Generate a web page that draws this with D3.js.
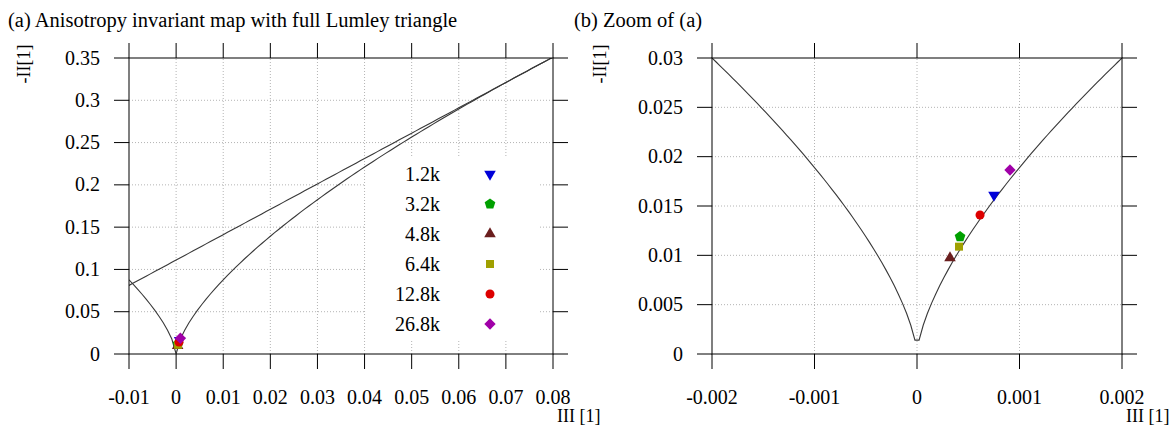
<!DOCTYPE html>
<html>
<head>
<meta charset="utf-8">
<script src="https://cdn.jsdelivr.net/npm/d3@7"></script>
<style>
  body { margin: 0; background: #fff; }
  svg text { font-family: "Liberation Serif", serif; fill: #000; }
  .grid line { stroke: #b4b4b4; stroke-dasharray: 1,2; }
</style>
</head>
<body>
<svg id="chart" width="1170" height="428"></svg>
<script>
// Reynolds numbers of the cases
const cases = ["1.2k", "3.2k", "4.8k", "6.4k", "12.8k", "26.8k"];
// third invariant III and second invariant -II for each case
const caseIII = [0.000751, 0.000420, 0.000322, 0.000410, 0.000615, 0.000907];
const caseII = [0.01611, 0.01189, 0.00973, 0.01088, 0.01409, 0.01865];
const caseColors = ["#0000d8", "#00a000", "#6a1e1e", "#a0a000", "#dd0000", "#a000a8"];

const ticksA_x = [-0.01, 0, 0.01, 0.02, 0.03, 0.04, 0.05, 0.06, 0.07, 0.08];
const ticksA_y = [0, 0.05, 0.1, 0.15, 0.2, 0.25, 0.3, 0.35];
const ticksB_x = [-0.002, -0.001, 0, 0.001, 0.002];
const ticksB_y = [0, 0.005, 0.01, 0.015, 0.02, 0.025, 0.03];

const svg = d3.select("#chart");
const fmt = v => String(+v.toFixed(4));
const fs = 20;

// custom marker shapes
const pentagon = {
    draw(ctx, size) {
        let r = Math.sqrt(size / 2.38);
        for (let i = 0; i < 5; i++) {
            let a = -Math.PI / 2 + i * 2 * Math.PI / 5;
            if (i === 0) ctx.moveTo(r * Math.cos(a), r * Math.sin(a));
            else ctx.lineTo(r * Math.cos(a), r * Math.sin(a));
        }
        ctx.closePath();
    }
};
const markers = [
    { type: d3.symbolTriangle, size: 58, rot: 180 },
    { type: pentagon, size: 75, rot: 0 },
    { type: d3.symbolTriangle, size: 58, rot: 0 },
    { type: d3.symbolSquare, size: 64, rot: 0 },
    { type: d3.symbolCircle, size: 64, rot: 0 },
    { type: d3.symbolSquare, size: 64, rot: 45 }
];

// Lumley triangle boundaries: axisymmetric curve and two-component line
const axisym = t => 3 * Math.pow(Math.abs(t) / 2, 2 / 3);
const twoComp = t => 1 / 9 + 3 * t;

function panel(opts) {
    const x = d3.scaleLinear().domain(opts.xDomain).range([opts.left, opts.right]);
    const y = d3.scaleLinear().domain(opts.yDomain).range([354, 58]);
    const g = svg.append("g");
    const tl = 15;

    // grid
    const grid = g.append("g").attr("class", "grid");
    grid.selectAll(".gx").data(opts.xTicks.slice(1, -1)).join("line")
        .attr("x1", d => x(d)).attr("x2", d => x(d))
        .attr("y1", y.range()[0]).attr("y2", y.range()[1]);
    grid.selectAll(".gy").data(opts.yTicks.slice(1, -1)).join("line")
        .attr("y1", d => y(d)).attr("y2", d => y(d))
        .attr("x1", opts.left).attr("x2", opts.right);

    // legend background hides the grid only
    if (opts.legend) {
        g.append("rect").attr("x", 366).attr("y", 156)
            .attr("width", 172).attr("height", 184).attr("fill", "#fff");
    }

    // clip for curves
    const cid = "clip" + opts.id;
    svg.append("clipPath").attr("id", cid).append("rect")
        .attr("x", opts.left).attr("y", 58)
        .attr("width", opts.right - opts.left).attr("height", 354 - 58);

    // sampled like gnuplot (100 samples)
    const samples = d3.range(100).map(i => opts.xDomain[0] + i * (opts.xDomain[1] - opts.xDomain[0]) / 99);
    const line = fn => d3.line().x(d => x(d)).y(d => y(fn(d)))(samples);
    const curves = g.append("g").attr("clip-path", "url(#" + cid + ")");
    curves.append("path").attr("d", line(axisym))
        .attr("fill", "none").attr("stroke", "#383838").attr("stroke-width", 1.1);
    if (opts.twoComp) {
        curves.append("path").attr("d", line(twoComp))
            .attr("fill", "none").attr("stroke", "#383838").attr("stroke-width", 1.1);
    }

    if (opts.legend) {
        cases.forEach((c, i) => {
            let ly = 174 + i * 30;
            g.append("text").attr("x", 440).attr("y", ly).attr("dy", "0.33em")
                .attr("text-anchor", "end").attr("font-size", fs).text(c);
            g.append("path")
                .attr("d", d3.symbol().type(markers[i].type).size(markers[i].size)())
                .attr("transform", "translate(490," + ly + ") rotate(" + markers[i].rot + ")")
                .attr("fill", caseColors[i]);
        });
    }

    // border
    g.append("rect").attr("x", opts.left).attr("y", 58)
        .attr("width", opts.right - opts.left).attr("height", 354 - 58)
        .attr("fill", "none").attr("stroke", "#000").attr("stroke-width", 1);

    // ticks on all four sides, pointing out
    const ticks = g.append("g").attr("stroke", "#000").attr("stroke-width", 1);
    opts.xTicks.forEach(t => {
        ticks.append("line").attr("x1", x(t)).attr("x2", x(t)).attr("y1", 354).attr("y2", 354 + tl);
        ticks.append("line").attr("x1", x(t)).attr("x2", x(t)).attr("y1", 58).attr("y2", 58 - tl);
    });
    opts.yTicks.forEach(t => {
        ticks.append("line").attr("y1", y(t)).attr("y2", y(t)).attr("x1", opts.left).attr("x2", opts.left - tl);
        ticks.append("line").attr("y1", y(t)).attr("y2", y(t)).attr("x1", opts.right).attr("x2", opts.right + tl);
    });

    g.selectAll(".xl").data(opts.xTicks).join("text")
        .attr("x", d => x(d)).attr("y", 397).attr("dy", "0.33em")
        .attr("text-anchor", "middle").attr("font-size", fs).text(fmt);
    g.selectAll(".yl").data(opts.yTicks).join("text")
        .attr("x", opts.left - 29).attr("y", d => y(d)).attr("dy", "0.33em")
        .attr("text-anchor", "end").attr("font-size", fs).text(fmt);

    // data points
    caseIII.forEach((v, i) => {
        g.append("path")
            .attr("d", d3.symbol().type(markers[i].type).size(markers[i].size)())
            .attr("transform", "translate(" + x(v) + "," + y(caseII[i]) + ") rotate(" + markers[i].rot + ")")
            .attr("fill", caseColors[i]);
    });

    // labels
    g.append("text").attr("x", opts.titleX).attr("y", 27).attr("font-size", 20.5).text(opts.title);
    g.append("text").attr("x", opts.right + 4).attr("y", 422).attr("font-size", 18).text("III [1]");
    g.append("text").attr("transform", "translate(" + opts.yLabelX + ",64) rotate(-90)")
        .attr("dy", "0.33em").attr("text-anchor", "middle").attr("font-size", 18).text("-II[1]");
}

panel({
    id: "a", left: 129, right: 553,
    xDomain: [-0.01, 0.08], yDomain: [0, 0.35],
    xTicks: ticksA_x, yTicks: ticksA_y,
    twoComp: true, legend: true, yLabelX: 24,
    title: "(a) Anisotropy invariant map with full Lumley triangle", titleX: 8
});
panel({
    id: "b", left: 712, right: 1122,
    xDomain: [-0.002, 0.002], yDomain: [0, 0.03],
    xTicks: ticksB_x, yTicks: ticksB_y,
    twoComp: false, legend: false, yLabelX: 600,
    title: "(b) Zoom of (a)", titleX: 574
});
</script>
</body>
</html>
